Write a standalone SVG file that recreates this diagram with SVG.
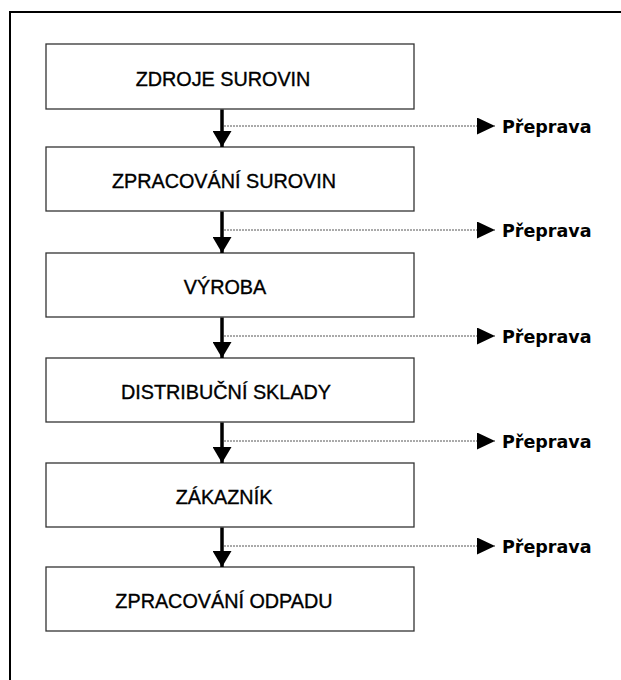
<svg xmlns="http://www.w3.org/2000/svg" width="621" height="680" viewBox="0 0 621 680">
<style>
.box{fill:#fff;stroke:#333;stroke-width:1.3}
.t{font-family:"Liberation Sans",Arial,sans-serif;font-size:19.8px;fill:#000;stroke:#000;stroke-width:0.35;text-anchor:middle}
.lbl{font-family:"DejaVu Sans",Verdana,sans-serif;font-weight:bold;font-size:17.5px;fill:#000}
.flow{stroke:#000;stroke-width:3.5}
.dash{stroke:#555;stroke-width:1;stroke-dasharray:2,1}
</style>
<defs>
<marker id="hd" viewBox="0 0 10 10" refX="10" refY="5" markerWidth="18" markerHeight="17" markerUnits="userSpaceOnUse" orient="auto" preserveAspectRatio="none">
<path d="M0,0 L10,5 L0,10 Z" fill="#000"/>
</marker>
<marker id="hv" viewBox="0 0 10 10" refX="10" refY="5" markerWidth="16" markerHeight="19" markerUnits="userSpaceOnUse" orient="auto" preserveAspectRatio="none">
<path d="M0,0 L10,5 L0,10 Z" fill="#000"/>
</marker>
</defs>
<rect width="621" height="680" fill="#fff"/>
<path d="M10,680 V12 H621" fill="none" stroke="#000" stroke-width="2"/>
<g id="n1"><rect class="box" x="46" y="44" width="368" height="65"/><text class="t" x="223" y="85.5">ZDROJE SUROVIN</text></g>
<g id="n2"><rect class="box" x="46" y="147" width="368" height="64"/><text class="t" x="224" y="187.5">ZPRACOVÁNÍ SUROVIN</text></g>
<g id="n3"><rect class="box" x="46" y="253" width="368" height="64"/><text class="t" x="225" y="293.5">VÝROBA</text></g>
<g id="n4"><rect class="box" x="46" y="358" width="368" height="64"/><text class="t" x="226" y="398.5">DISTRIBUČNÍ SKLADY</text></g>
<g id="n5"><rect class="box" x="46" y="463" width="368" height="64"/><text class="t" x="224" y="503.5">ZÁKAZNÍK</text></g>
<g id="n6"><rect class="box" x="46" y="567" width="368" height="64"/><text class="t" x="224" y="607.5">ZPRACOVÁNÍ ODPADU</text></g>
<g id="connectors">
<line class="flow" x1="222" y1="109.5" x2="222" y2="147" marker-end="url(#hv)"/>
<line class="flow" x1="222" y1="211.5" x2="222" y2="253" marker-end="url(#hv)"/>
<line class="flow" x1="222" y1="317.5" x2="222" y2="358" marker-end="url(#hv)"/>
<line class="flow" x1="222" y1="422.5" x2="222" y2="463" marker-end="url(#hv)"/>
<line class="flow" x1="222" y1="527.5" x2="222" y2="567" marker-end="url(#hv)"/>
<line class="dash" x1="224" y1="126" x2="495" y2="126" marker-end="url(#hd)"/>
<line class="dash" x1="224" y1="230" x2="495" y2="230" marker-end="url(#hd)"/>
<line class="dash" x1="224" y1="336" x2="495" y2="336" marker-end="url(#hd)"/>
<line class="dash" x1="224" y1="441" x2="495" y2="441" marker-end="url(#hd)"/>
<line class="dash" x1="224" y1="546" x2="495" y2="546" marker-end="url(#hd)"/>
<text class="lbl" x="502" y="132.5">Přeprava</text>
<text class="lbl" x="502" y="236.5">Přeprava</text>
<text class="lbl" x="502" y="342.5">Přeprava</text>
<text class="lbl" x="502" y="447.5">Přeprava</text>
<text class="lbl" x="502" y="552.5">Přeprava</text>
</g>
</svg>
